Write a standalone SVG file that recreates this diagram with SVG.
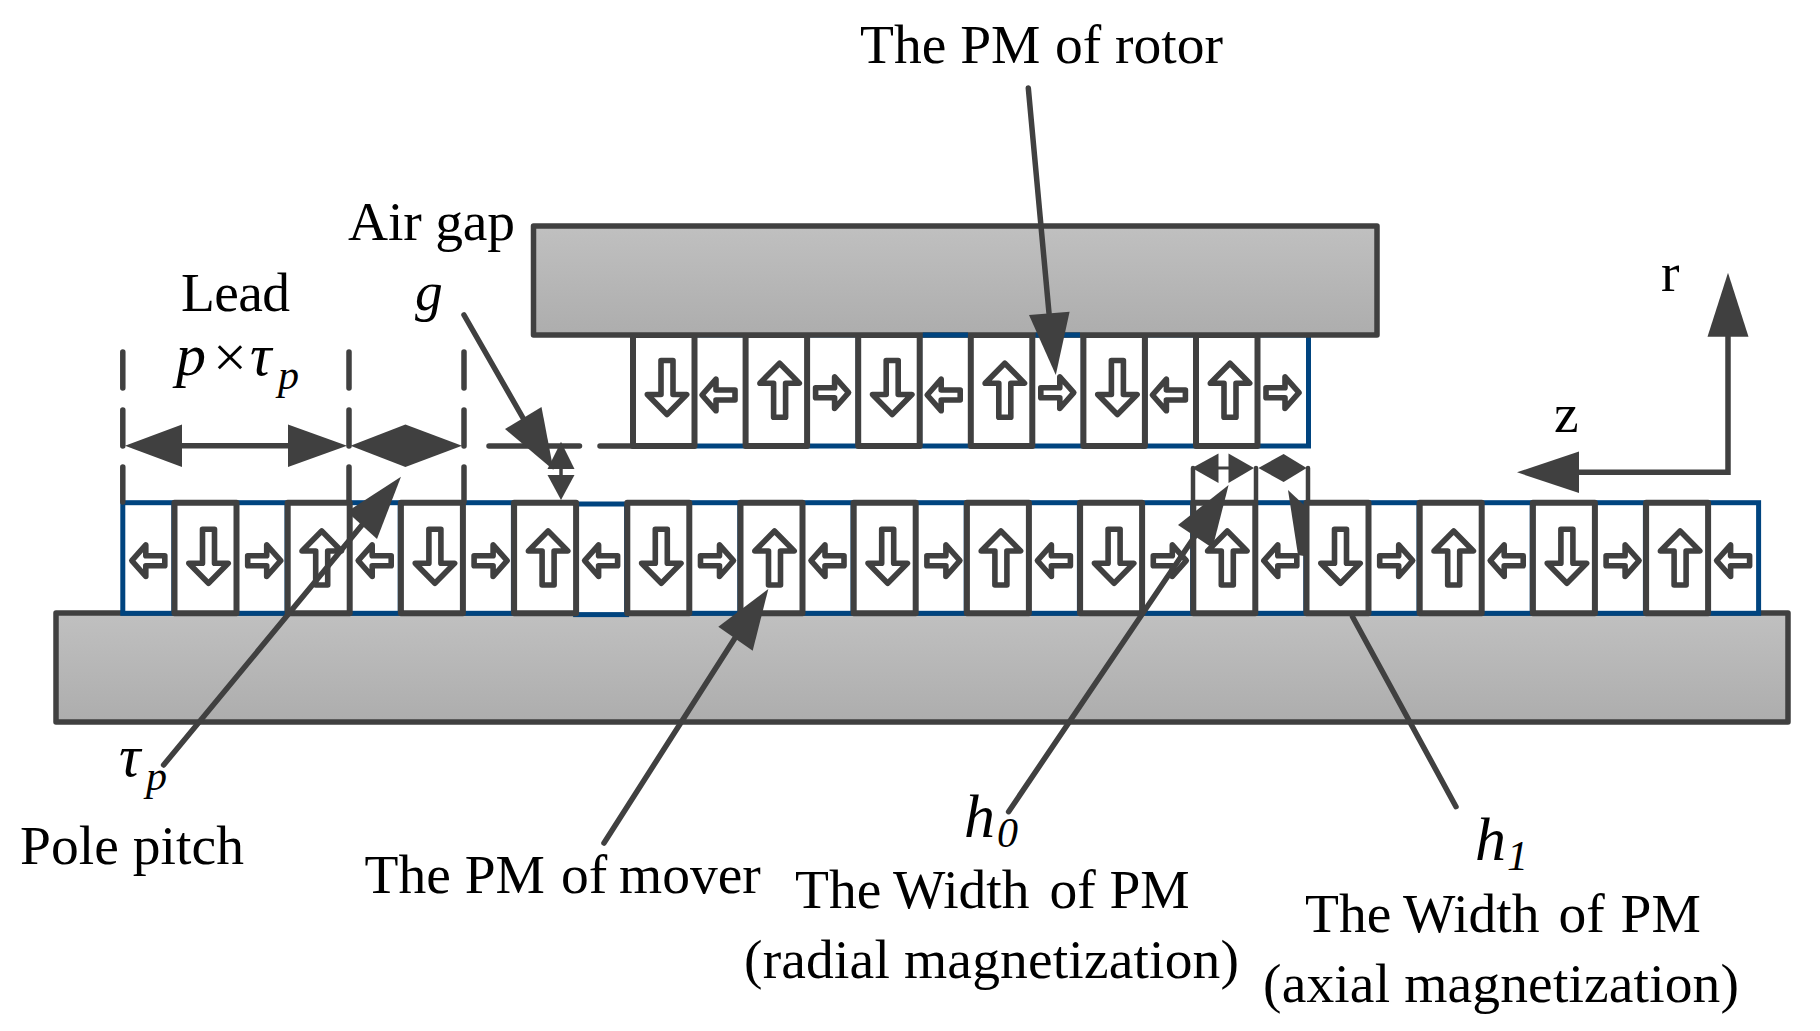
<svg xmlns="http://www.w3.org/2000/svg" width="1820" height="1031" viewBox="0 0 1820 1031">
<style>
text{font-family:"Liberation Serif","Times New Roman",serif;font-size:55.5px;fill:#000}
.i{font-style:italic}
.m{font-size:60px}
.s{font-size:42px}
.h{font-size:62px}
.ax{fill:#fff;stroke:#00447f;stroke-width:5}
.ra{fill:#fff;stroke:#404040;stroke-width:6;stroke-linejoin:round}
.yoke{fill:url(#g);stroke:#404040;stroke-width:5.5;stroke-linejoin:round}
.ar{fill:#fff;stroke:#404040;stroke-width:5.6;stroke-linejoin:round}
.ln{fill:none;stroke:#404040;stroke-width:5.5;stroke-linecap:round}
.hd{fill:#404040;stroke:none}
.bl{fill:none;stroke:#00447f;stroke-width:5}
</style>
<defs>
<linearGradient id="g" x1="0" y1="0" x2="0" y2="1"><stop offset="0" stop-color="#c0c0c0"/><stop offset="1" stop-color="#adadad"/></linearGradient>
<polygon id="U" class="ar" points="0,0 19.7,20 6,20 6,54 -6,54 -6,20 -19.7,20"/>
<polygon id="D" class="ar" points="0,0 19.7,-20 6,-20 6,-54 -6,-54 -6,-20 -19.7,-20"/>
<polygon id="L" class="ar" points="0,0 14,-15.8 14,-5 33,-5 33,5 14,5 14,15.8"/>
<polygon id="R" class="ar" points="0,0 -14,-15.8 -14,-5 -33,-5 -33,5 -14,5 -14,15.8"/>
</defs>
<rect width="1820" height="1031" fill="#fff"/>

<g id="mover-base"><rect class="yoke" x="56" y="613" width="1732" height="109"/></g>

<g id="mover-magnets">
<g id="ma0"><rect class="ax" x="122.8" y="502.7" width="51" height="110.6"/></g>
<g id="ma1"><rect class="ax" x="236" y="502.7" width="51" height="110.6"/></g>
<g id="ma2"><rect class="ax" x="349.2" y="502.7" width="51" height="110.6"/></g>
<g id="ma3"><rect class="ax" x="462.4" y="502.7" width="51" height="110.6"/></g>
<g id="ma4"><rect class="ax" x="575.6" y="504" width="51" height="110.6"/></g>
<g id="ma5"><rect class="ax" x="688.8" y="502.7" width="51" height="110.6"/></g>
<g id="ma6"><rect class="ax" x="802" y="502.7" width="51" height="110.6"/></g>
<g id="ma7"><rect class="ax" x="915.2" y="502.7" width="51" height="110.6"/></g>
<g id="ma8"><rect class="ax" x="1028.4" y="502.7" width="51" height="110.6"/></g>
<g id="ma9"><rect class="ax" x="1141.6" y="502.7" width="51" height="110.6"/></g>
<g id="ma10"><rect class="ax" x="1254.8" y="502.7" width="51" height="110.6"/></g>
<g id="ma11"><rect class="ax" x="1368" y="502.7" width="51" height="110.6"/></g>
<g id="ma12"><rect class="ax" x="1481.2" y="502.7" width="51" height="110.6"/></g>
<g id="ma13"><rect class="ax" x="1594.4" y="502.7" width="51" height="110.6"/></g>
<g id="ma14"><rect class="ax" x="1707.6" y="502.7" width="51" height="110.6"/></g>
<g id="mr0"><rect class="ra" x="174.5" y="502.7" width="62" height="110.6"/></g>
<g id="mr1"><rect class="ra" x="287.7" y="502.7" width="62" height="110.6"/></g>
<g id="mr2"><rect class="ra" x="400.9" y="502.7" width="62" height="110.6"/></g>
<g id="mr3"><rect class="ra" x="514.1" y="502.7" width="62" height="110.6"/></g>
<g id="mr4"><rect class="ra" x="627.3" y="502.7" width="62" height="110.6"/></g>
<g id="mr5"><rect class="ra" x="740.5" y="502.7" width="62" height="110.6"/></g>
<g id="mr6"><rect class="ra" x="853.7" y="502.7" width="62" height="110.6"/></g>
<g id="mr7"><rect class="ra" x="966.9" y="502.7" width="62" height="110.6"/></g>
<g id="mr8"><rect class="ra" x="1080.1" y="502.7" width="62" height="110.6"/></g>
<g id="mr9"><rect class="ra" x="1193.3" y="502.7" width="62" height="110.6"/></g>
<g id="mr10"><rect class="ra" x="1306.5" y="502.7" width="62" height="110.6"/></g>
<g id="mr11"><rect class="ra" x="1419.7" y="502.7" width="62" height="110.6"/></g>
<g id="mr12"><rect class="ra" x="1532.9" y="502.7" width="62" height="110.6"/></g>
<g id="mr13"><rect class="ra" x="1646.1" y="502.7" width="62" height="110.6"/></g>
</g>
<g id="mover-arrows">
<use href="#L" x="131.8" y="560.7"/><use href="#R" x="280.7" y="560.7"/><use href="#L" x="358.2" y="560.7"/><use href="#R" x="507.1" y="560.7"/><use href="#L" x="584.6" y="560.7"/><use href="#R" x="733.5" y="560.7"/><use href="#L" x="811" y="560.7"/><use href="#R" x="959.9" y="560.7"/><use href="#L" x="1037.4" y="560.7"/><use href="#R" x="1186.3" y="560.7"/><use href="#L" x="1263.8" y="560.7"/><use href="#R" x="1412.7" y="560.7"/><use href="#L" x="1490.2" y="560.7"/><use href="#R" x="1639.1" y="560.7"/><use href="#L" x="1716.6" y="560.7"/>
<use href="#D" x="208.5" y="583.2"/><use href="#U" x="321.7" y="531"/><use href="#D" x="434.9" y="583.2"/><use href="#U" x="548.1" y="531"/><use href="#D" x="661.3" y="583.2"/><use href="#U" x="774.5" y="531"/><use href="#D" x="887.7" y="583.2"/><use href="#U" x="1000.9" y="531"/><use href="#D" x="1114.1" y="583.2"/><use href="#U" x="1227.3" y="531"/><use href="#D" x="1340.5" y="583.2"/><use href="#U" x="1453.7" y="531"/><use href="#D" x="1566.9" y="583.2"/><use href="#U" x="1680.1" y="531"/>
</g>

<g id="rotor-magnets">
<g id="ra0"><rect class="ax" x="694.5" y="335" width="51" height="111"/></g>
<g id="ra1"><rect class="ax" x="807.1" y="335" width="51" height="111"/></g>
<g id="ra2"><rect class="ax" x="919.7" y="335" width="51" height="111"/></g>
<g id="ra3"><rect class="ax" x="1032.3" y="335" width="51" height="111"/></g>
<g id="ra4"><rect class="ax" x="1144.9" y="335" width="51" height="111"/></g>
<g id="ra5"><rect class="ax" x="1257.5" y="335" width="51" height="111"/></g>
<g id="rr0"><rect class="ra" x="633" y="335" width="61.5" height="111"/></g>
<g id="rr1"><rect class="ra" x="745.6" y="335" width="61.5" height="111"/></g>
<g id="rr2"><rect class="ra" x="858.2" y="335" width="61.5" height="111"/></g>
<g id="rr3"><rect class="ra" x="970.8" y="335" width="61.5" height="111"/></g>
<g id="rr4"><rect class="ra" x="1083.4" y="335" width="61.5" height="111"/></g>
<g id="rr5"><rect class="ra" x="1196" y="335" width="61.5" height="111"/></g>
</g>
<g id="rotor-base"><rect class="yoke" x="533.5" y="226" width="843.5" height="109"/>
<path class="bl" d="M922.8 335H968M1035.7 335H1080"/></g>
<g id="rotor-arrows">
<use href="#D" x="667" y="414.5"/><use href="#U" x="779.6" y="363.2"/><use href="#D" x="892.2" y="414.5"/><use href="#U" x="1004.8" y="363.2"/><use href="#D" x="1117.4" y="414.5"/><use href="#U" x="1230" y="363.2"/>
<use href="#L" x="702" y="395"/><use href="#R" x="848.6" y="392.7"/><use href="#L" x="927.2" y="395"/><use href="#R" x="1073.8" y="392.7"/><use href="#L" x="1152.4" y="395"/><use href="#R" x="1299" y="392.7"/>
</g>

<g id="connectors">
<path class="ln" d="M122.8 352V388M122.8 410V446M122.8 467V502M349 352V388M349 410V446M349 467V502M464 352V388M464 410V446M464 467V502"/>
<path class="ln" d="M489 446H579.5M600 446H633"/>
<path class="ln" d="M180 445.7H290"/>
<polygon class="hd" points="125,445.7 182,424.5 182,467"/>
<polygon class="hd" points="347,445.7 288,424.5 288,467"/>
<polygon class="hd" points="350.5,445.7 405.4,424.5 462,445.7 405.4,467"/>
<path class="ln" style="stroke-width:3.5" d="M561 450V492"/>
<polygon class="hd" points="561,441.7 574.5,469 547.5,469"/>
<polygon class="hd" points="561,500 574.5,475 547.5,475"/>
<path class="ln" d="M464 315L523 418"/>
<polygon class="hd" points="553.5,470 541.5,407 505,429"/>
<path class="ln" d="M163.6 765L362 525"/>
<polygon class="hd" points="401,476.7 347,511.7 377,539"/>
<path class="ln" d="M604 843L735 638"/>
<polygon class="hd" points="768.3,589 718.3,626.7 752.7,650.7"/>
<path class="ln" d="M1028.3 88L1049 313"/>
<polygon class="hd" points="1055.8,375 1029,315 1069.6,311.7"/>
<path class="ln" d="M1008.6 811.7L1195 536"/>
<polygon class="hd" points="1228.6,485 1178,525 1212.5,548"/>
<path class="ln" d="M1456 806.7L1352.5 616.7"/>
<polygon class="hd" points="1288,490 1298,555 1304,556 1304,505"/>
<path class="ln" style="stroke-width:4.5" d="M1193 468V502M1256 468V502M1308 468V502"/>
<polygon class="hd" points="1192,468 1218.5,453.5 1218.5,483"/>
<polygon class="hd" points="1254,468 1228.5,453.5 1228.5,483"/>
<path class="ln" style="stroke-width:3" d="M1218 468H1229"/>
<polygon class="hd" points="1258.4,468 1283.6,454 1306.6,468 1283.6,482"/>
<path class="ln" d="M1579 472.3H1728V336"/>
<polygon class="hd" points="1517,472.3 1579,451.5 1579,493"/>
<polygon class="hd" points="1728,272.7 1748.5,336.7 1707.5,336.7"/>
</g>

<g id="labels">
<text x="860" y="63">The PM <tspan x="1055">of rotor</tspan></text>
<text x="348" y="240" textLength="167">Air gap</text>
<text x="181" y="311" textLength="109">Lead</text>
<text class="i" x="415" y="310" textLength="31">g</text>
<text class="i m" x="176" y="375">p</text>
<text class="m" x="213" y="377">×</text>
<text class="i m" x="250" y="375">τ</text>
<text class="i s" x="278" y="389">p</text>
<text class="i m" x="119" y="776">τ</text>
<text class="i s" x="146" y="790">p</text>
<text x="20" y="864" textLength="224">Pole pitch</text>
<text x="364.5" y="893">The PM <tspan x="561">of</tspan> <tspan x="619">mover</tspan></text>
<text class="i h" x="964" y="836.7">h</text>
<text class="i s" x="997" y="846.7">0</text>
<text x="795" y="908">The <tspan x="893">Width</tspan> <tspan x="1049.6">of</tspan> <tspan x="1109.5">PM</tspan></text>
<text x="744" y="978" textLength="495">(radial magnetization)</text>
<text class="i h" x="1475" y="860">h</text>
<text class="i s" x="1507" y="870">1</text>
<text x="1305" y="932">The <tspan x="1403">Width</tspan> <tspan x="1558.5">of</tspan> <tspan x="1620.6">PM</tspan></text>
<text x="1263" y="1001.7" textLength="476">(axial magnetization)</text>
<text x="1661" y="291">r</text>
<text x="1554" y="432">z</text>
</g>
</svg>
